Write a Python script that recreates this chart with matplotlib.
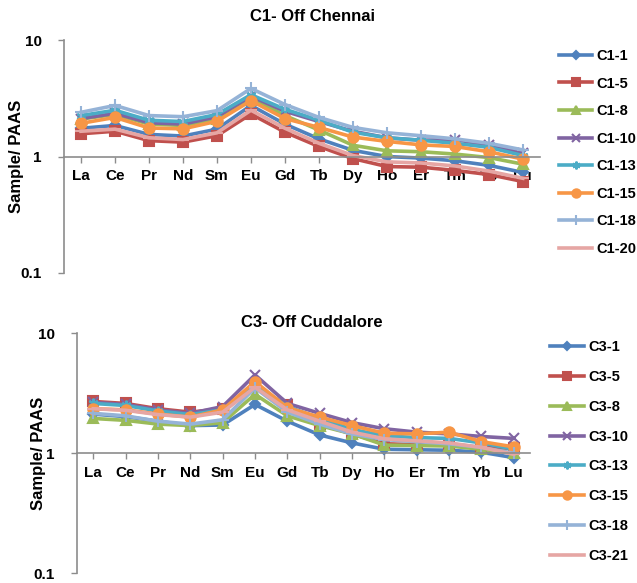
import matplotlib
matplotlib.use("Agg")
import matplotlib.pyplot as plt

plt.rcParams["font.family"] = ["Liberation Sans", "DejaVu Sans"]
plt.rcParams["font.weight"] = "bold"

elements = ["La", "Ce", "Pr", "Nd", "Sm", "Eu", "Gd", "Tb", "Dy", "Ho", "Er", "Tm", "Yb", "Lu"]

# C1 - Off Chennai (sample / PAAS)
c1_names = ["C1-1", "C1-5", "C1-8", "C1-10", "C1-13", "C1-15", "C1-18", "C1-20"]
c1_1 = [1.75, 1.85, 1.55, 1.50, 1.72, 2.75, 1.90, 1.42, 1.13, 1.00, 0.97, 0.92, 0.84, 0.73]
c1_5 = [1.57, 1.65, 1.37, 1.33, 1.51, 2.32, 1.62, 1.22, 0.96, 0.82, 0.81, 0.76, 0.70, 0.61]
c1_8 = [2.10, 2.30, 1.90, 1.85, 2.10, 3.20, 2.25, 1.69, 1.25, 1.12, 1.10, 1.05, 0.98, 0.86]
c1_10 = [2.12, 2.35, 1.95, 1.90, 2.20, 3.30, 2.45, 2.00, 1.65, 1.45, 1.38, 1.40, 1.25, 1.08]
c1_13 = [2.25, 2.50, 2.05, 2.00, 2.30, 3.40, 2.55, 2.05, 1.62, 1.45, 1.38, 1.30, 1.20, 1.02]
c1_15 = [1.93, 2.17, 1.76, 1.73, 2.01, 3.02, 2.12, 1.78, 1.47, 1.35, 1.26, 1.22, 1.10, 0.95]
c1_18 = [2.40, 2.75, 2.25, 2.20, 2.48, 3.85, 2.80, 2.17, 1.78, 1.60, 1.51, 1.42, 1.30, 1.14]
c1_20 = [1.65, 1.72, 1.45, 1.40, 1.60, 2.50, 1.75, 1.30, 1.02, 0.90, 0.88, 0.83, 0.75, 0.65]

# C3 - Off Cuddalore (sample / PAAS)
c3_names = ["C3-1", "C3-5", "C3-8", "C3-10", "C3-13", "C3-15", "C3-18", "C3-21"]
c3_1 = [2.12, 2.02, 1.85, 1.70, 1.72, 2.55, 1.85, 1.42, 1.22, 1.08, 1.07, 1.06, 1.02, 0.92]
c3_5 = [2.70, 2.60, 2.35, 2.20, 2.35, 3.60, 2.50, 1.75, 1.45, 1.20, 1.18, 1.17, 1.12, 1.10]
c3_8 = [1.95, 1.88, 1.75, 1.70, 1.80, 3.10, 2.05, 1.70, 1.45, 1.17, 1.16, 1.15, 1.08, 1.00]
c3_10 = [2.65, 2.55, 2.30, 2.15, 2.45, 4.50, 2.60, 2.15, 1.80, 1.60, 1.50, 1.45, 1.38, 1.33]
c3_13 = [2.60, 2.50, 2.25, 2.10, 2.30, 3.70, 2.45, 1.95, 1.58, 1.40, 1.35, 1.33, 1.22, 1.08]
c3_15 = [2.35, 2.30, 2.12, 2.00, 2.30, 3.95, 2.40, 2.00, 1.70, 1.47, 1.45, 1.50, 1.25, 1.13]
c3_18 = [2.15, 2.05, 1.85, 1.75, 1.90, 3.50, 2.20, 1.75, 1.45, 1.30, 1.25, 1.20, 1.12, 1.00]
c3_21 = [2.35, 2.28, 2.10, 2.00, 2.20, 3.55, 2.30, 1.85, 1.50, 1.32, 1.27, 1.22, 1.12, 0.98]

colors = ["#4F81BD", "#C0504D", "#9BBB59", "#8064A2", "#4BACC6", "#F79646", "#95B3D7", "#E6A6A4"]
markers = ["D", "s", "^", "x", (6, 2, 0), "o", "+", "_"]
msizes = [5.5, 6.5, 6.5, 7, 7, 7.5, 9, 9]


def draw_panel(ax, names, series, label_spacing, legend_xy, ylabel_x):
    fig = ax.figure
    x = list(range(len(elements)))
    for i, (name, vals) in enumerate(zip(names, series)):
        ax.plot(x, vals, color=colors[i], marker=markers[i], markersize=msizes[i],
                markeredgewidth=1.5, linewidth=2.6, label=name)
    ax.set_yscale("log")
    ax.set_ylim(0.1, 10)
    ax.set_xlim(-0.5, len(elements) - 0.5)
    ax.set_yticks([0.1, 1, 10])
    ax.set_yticklabels(["0.1", "1", "10"])
    ax.minorticks_off()
    ax.set_xticks(x)
    ax.set_xticklabels(elements)
    ax.spines["bottom"].set_position(("data", 1))
    for s in ("top", "right"):
        ax.spines[s].set_visible(False)
    for s in ("left", "bottom"):
        ax.spines[s].set_color("#8C8C8C")
        ax.spines[s].set_linewidth(1.2)
    ax.tick_params(axis="both", colors="#8C8C8C", length=4, width=1, labelcolor="black",
                   labelsize=11)
    ax.tick_params(axis="x", pad=5)
    ax.tick_params(axis="y", pad=12)
    for t in ax.get_xticklabels() + ax.get_yticklabels():
        t.set_fontweight("bold")
    ax.set_ylabel("Sample/ PAAS", fontsize=12, fontweight="bold")
    ax.yaxis.set_label_coords(ylabel_x, 0.5)
    leg = ax.legend(loc="upper left", bbox_to_anchor=legend_xy, bbox_transform=fig.transFigure,
                    frameon=False, labelspacing=label_spacing, handlelength=2.3,
                    handletextpad=0.3, borderaxespad=0, markerscale=0.8,
                    prop={"weight": "bold", "size": 10.5})
    return leg


fig = plt.figure(figsize=(6.37, 5.83), dpi=100)
ax1 = fig.add_axes([0.1005, 0.532, 0.747, 0.399])
ax2 = fig.add_axes([0.121, 0.0165, 0.711, 0.412])

draw_panel(ax1, c1_names, [c1_1, c1_5, c1_8, c1_10, c1_13, c1_15, c1_18, c1_20],
           0.93, (0.868, 0.926), -0.085)
draw_panel(ax2, c3_names, [c3_1, c3_5, c3_8, c3_10, c3_13, c3_15, c3_18, c3_21],
           1.08, (0.855, 0.426), -0.068)

fig.text(0.49, 0.971, "C1- Off Chennai", ha="center", va="center", fontsize=12, fontweight="bold")
fig.text(0.49, 0.447, "C3- Off Cuddalore", ha="center", va="center", fontsize=12, fontweight="bold")

fig.savefig("out.png", dpi=100)
